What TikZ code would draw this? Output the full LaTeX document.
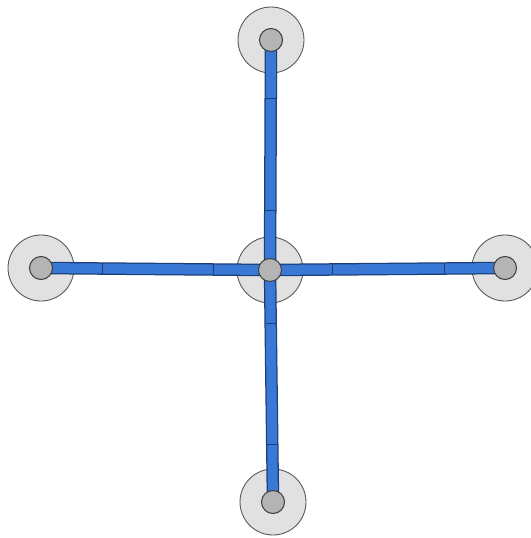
\documentclass[tikz,border=0pt]{standalone}
\usepackage{tikz}

\definecolor{padfill}{HTML}{E1E1E1}
\definecolor{padline}{HTML}{5A5A5A}
\definecolor{pinfill}{HTML}{B4B4B4}
\definecolor{pinline}{HTML}{3C3C3C}
\definecolor{beamfill}{HTML}{3A78D6}
\definecolor{beamline}{HTML}{1B3E78}

\def\padsize{66pt}
\def\pinsize{23pt}

\begin{document}
\begin{tikzpicture}[x=1pt, y=-1pt,
    pad/.style={circle, draw=padline, fill=padfill, line width=0.9pt, minimum size=\padsize, inner sep=0pt},
    pin/.style={circle, draw=pinline, fill=pinfill, line width=1pt, minimum size=\pinsize, inner sep=0pt},
    beamedge/.style={draw=beamline, line width=12.5pt},
    beamcore/.style={draw=beamfill, line width=10pt},
    tick/.style={draw=beamline, line width=0.8pt}]
            \useasboundingbox (0, 0) rectangle (530, 538);
            % pads
            \node[pad] (pad-c) at (270, 270) {};
            \node[pad] (pad-n) at (271, 40) {};
            \node[pad] (pad-s) at (273, 502) {};
            \node[pad] (pad-w) at (41, 268) {};
            \node[pad] (pad-e) at (505, 268) {};
            % beams
            \foreach \p in {n, s, w, e}
                \draw[beamedge] (pad-c.center) -- (pad-\p.center);
            \foreach \p in {n, s, w, e}
                \draw[beamcore] (pad-c.center) -- (pad-\p.center);
            % segment joints
            \foreach \x in {102, 213, 332, 444}
                \draw[tick] (\x, 263) -- (\x, 274);
            \foreach \y in {98, 210}
                \draw[tick] (265, \y) -- (276, \y);
            \foreach \y in {323, 444}
                \draw[tick] (266, \y) -- (277, \y);
            % pins
            \foreach \p in {c, n, s, w, e}
                \node[pin] (pin-\p) at (pad-\p.center) {};
        \end{tikzpicture}
\end{document}
